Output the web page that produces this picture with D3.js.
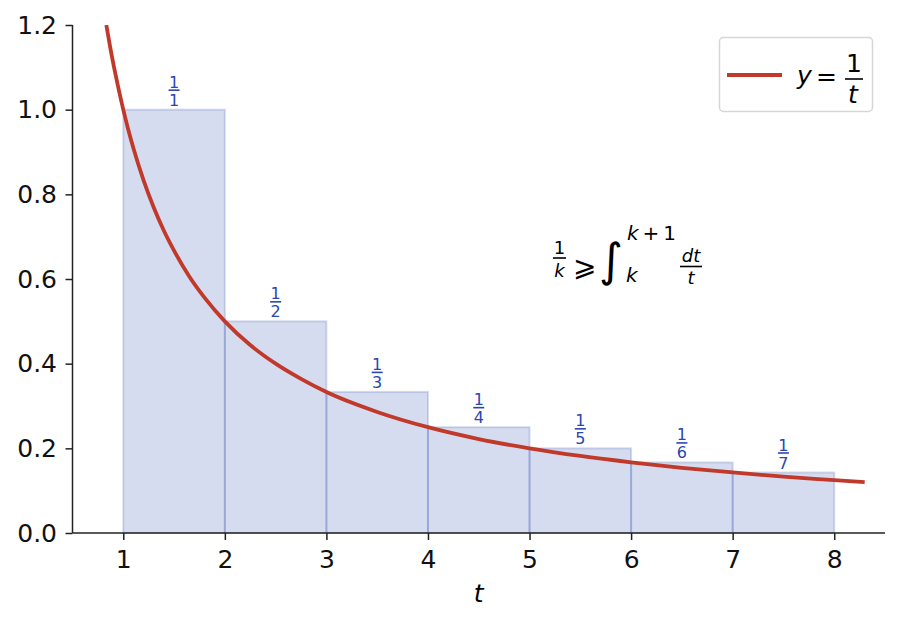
<!DOCTYPE html>
<html>
<head>
<meta charset="utf-8">
<script src="https://cdn.jsdelivr.net/npm/d3@7"></script>
<style>
body { margin: 0; background: #fff; }
text { font-family: "DejaVu Sans", sans-serif; }
</style>
</head>
<body>
<svg id="chart" width="901" height="625"></svg>
<script>
// bars: 1/k on [k, k+1]
var barStart = [1, 2, 3, 4, 5, 6, 7];
var barHeight = [1, 0.5, 0.3333, 0.25, 0.2, 0.1667, 0.1429];
var barDenom = ["1", "2", "3", "4", "5", "6", "7"];

// curve y = 1/t
var curveT = [0.833, 0.87, 0.91, 0.95, 1, 1.05, 1.1, 1.2, 1.3, 1.4, 1.5, 1.65, 1.8, 2, 2.25, 2.5, 2.75, 3, 3.5, 4, 4.5, 5, 5.5, 6, 6.5, 7, 7.5, 8, 8.3];
var curveY = [1.2, 1.149, 1.099, 1.053, 1, 0.952, 0.909, 0.833, 0.769, 0.714, 0.667, 0.606, 0.556, 0.5, 0.444, 0.4, 0.364, 0.333, 0.286, 0.25, 0.222, 0.2, 0.182, 0.167, 0.154, 0.143, 0.133, 0.125, 0.12];

var xTicks = [1, 2, 3, 4, 5, 6, 7, 8];
var yTicks = [0, 0.2, 0.4, 0.6, 0.8, 1.0, 1.2];

var svg = d3.select("#chart");
var L = 72.5, R = 885, T = 25, B = 533;

var x = d3.scaleLinear().domain([0.5, 8.5]).range([L, R]);
var y = d3.scaleLinear().domain([0, 1.2]).range([B, T]);

var blue = "#3250af";
var red = "#c0392b";

// bars
svg.append("g").selectAll("rect")
    .data(barStart)
    .join("rect")
    .attr("x", (d, i) => x(d))
    .attr("y", (d, i) => y(barHeight[i]))
    .attr("width", (d, i) => x(d + 1) - x(d))
    .attr("height", (d, i) => y(0) - y(barHeight[i]))
    .attr("fill", blue).attr("fill-opacity", 0.2)
    .attr("stroke", blue).attr("stroke-opacity", 0.2)
    .attr("stroke-width", 2);

// fraction labels over bars
var lab = svg.append("g").attr("fill", "#2a46b2").attr("font-size", 16).attr("text-anchor", "middle");
barStart.forEach(function(d, i) {
    var cx = x(d + 0.5), top = y(barHeight[i]);
    lab.append("text").attr("x", cx).attr("y", top - 22).text("1");
    lab.append("line").attr("x1", cx - 5.5).attr("x2", cx + 5.5)
        .attr("y1", top - 19.5).attr("y2", top - 19.5)
        .attr("stroke", "#2a46b2").attr("stroke-width", 1.6);
    lab.append("text").attr("x", cx).attr("y", top - 4).text(barDenom[i]);
});

// curve
svg.append("defs").append("clipPath").attr("id", "clip")
    .append("rect").attr("x", L).attr("y", T).attr("width", R - L).attr("height", B - T);
svg.append("path")
    .datum(curveT)
    .attr("clip-path", "url(#clip)")
    .attr("d", d3.line().x(d => x(d)).y((d, i) => y(curveY[i])).curve(d3.curveMonotoneX))
    .attr("fill", "none").attr("stroke", red).attr("stroke-width", 3.8);

// axes
var xAxis = svg.append("g").attr("transform", "translate(0," + B + ")")
    .call(d3.axisBottom(x).tickValues(xTicks).tickSize(7).tickPadding(10).tickFormat(d3.format("d")));
var yAxis = svg.append("g").attr("transform", "translate(" + L + ",0)")
    .call(d3.axisLeft(y).tickValues(yTicks).tickSize(7).tickPadding(8.5).tickFormat(d3.format(".1f")));
[xAxis, yAxis].forEach(function(a) {
    a.select(".domain").attr("stroke", "#222").attr("stroke-width", 1.5);
    a.selectAll(".tick line").attr("stroke", "#222").attr("stroke-width", 1.5);
    a.selectAll(".tick text").attr("font-size", 25).attr("fill", "#111")
        .attr("font-family", "DejaVu Sans");
});
xAxis.select(".domain").attr("d", "M" + L + ",0H" + R);
yAxis.select(".domain").attr("d", "M0," + B + "V" + T);

svg.append("text").attr("x", (L + R) / 2).attr("y", 602)
    .attr("text-anchor", "middle").attr("font-size", 25).attr("font-style", "italic").text("t");

// annotation: 1/k >= integral_k^{k+1} dt/t
var ann = svg.append("g").attr("fill", "#000");
ann.append("text").attr("x", 559.5).attr("y", 254).attr("font-size", 18).attr("text-anchor", "middle").text("1");
ann.append("line").attr("x1", 553).attr("x2", 566).attr("y1", 258).attr("y2", 258).attr("stroke", "#000").attr("stroke-width", 1.6);
ann.append("text").attr("x", 559.5).attr("y", 277).attr("font-size", 18).attr("font-style", "italic").attr("text-anchor", "middle").text("k");
ann.append("text").attr("x", 573).attr("y", 276).attr("font-size", 28).text("⩾");
ann.append("text").attr("x", 599).attr("y", 276).attr("font-size", 46).text("∫");
var sup = ann.append("text").attr("x", 627).attr("y", 240).attr("font-size", 20);
sup.append("tspan").attr("font-style", "italic").text("k");
sup.append("tspan").attr("dx", 4).text("+");
sup.append("tspan").attr("dx", 4).text("1");
ann.append("text").attr("x", 626).attr("y", 282).attr("font-size", 20).attr("font-style", "italic").text("k");
ann.append("text").attr("x", 691).attr("y", 262).attr("font-size", 18).attr("font-style", "italic").attr("text-anchor", "middle").text("dt");
ann.append("line").attr("x1", 680).attr("x2", 702).attr("y1", 266.5).attr("y2", 266.5).attr("stroke", "#000").attr("stroke-width", 1.6);
ann.append("text").attr("x", 691).attr("y", 284).attr("font-size", 18).attr("font-style", "italic").attr("text-anchor", "middle").text("t");

// legend
var lg = svg.append("g");
lg.append("rect").attr("x", 719.5).attr("y", 37.5).attr("width", 153).attr("height", 74).attr("rx", 4)
    .attr("fill", "#fff").attr("fill-opacity", 0.8).attr("stroke", "#d6d6d6").attr("stroke-width", 1.5);
lg.append("line").attr("x1", 727).attr("x2", 782).attr("y1", 75).attr("y2", 75)
    .attr("stroke", red).attr("stroke-width", 3.8);
lg.append("text").attr("x", 797).attr("y", 84).attr("font-size", 25).attr("font-style", "italic").text("y");
lg.append("text").attr("x", 816).attr("y", 85).attr("font-size", 25).text("=");
lg.append("text").attr("x", 854).attr("y", 72).attr("font-size", 25).attr("text-anchor", "middle").text("1");
lg.append("line").attr("x1", 845).attr("x2", 863).attr("y1", 79).attr("y2", 79).attr("stroke", "#000").attr("stroke-width", 1.6);
lg.append("text").attr("x", 853).attr("y", 103).attr("font-size", 25).attr("font-style", "italic").attr("text-anchor", "middle").text("t");
</script>
</body>
</html>
